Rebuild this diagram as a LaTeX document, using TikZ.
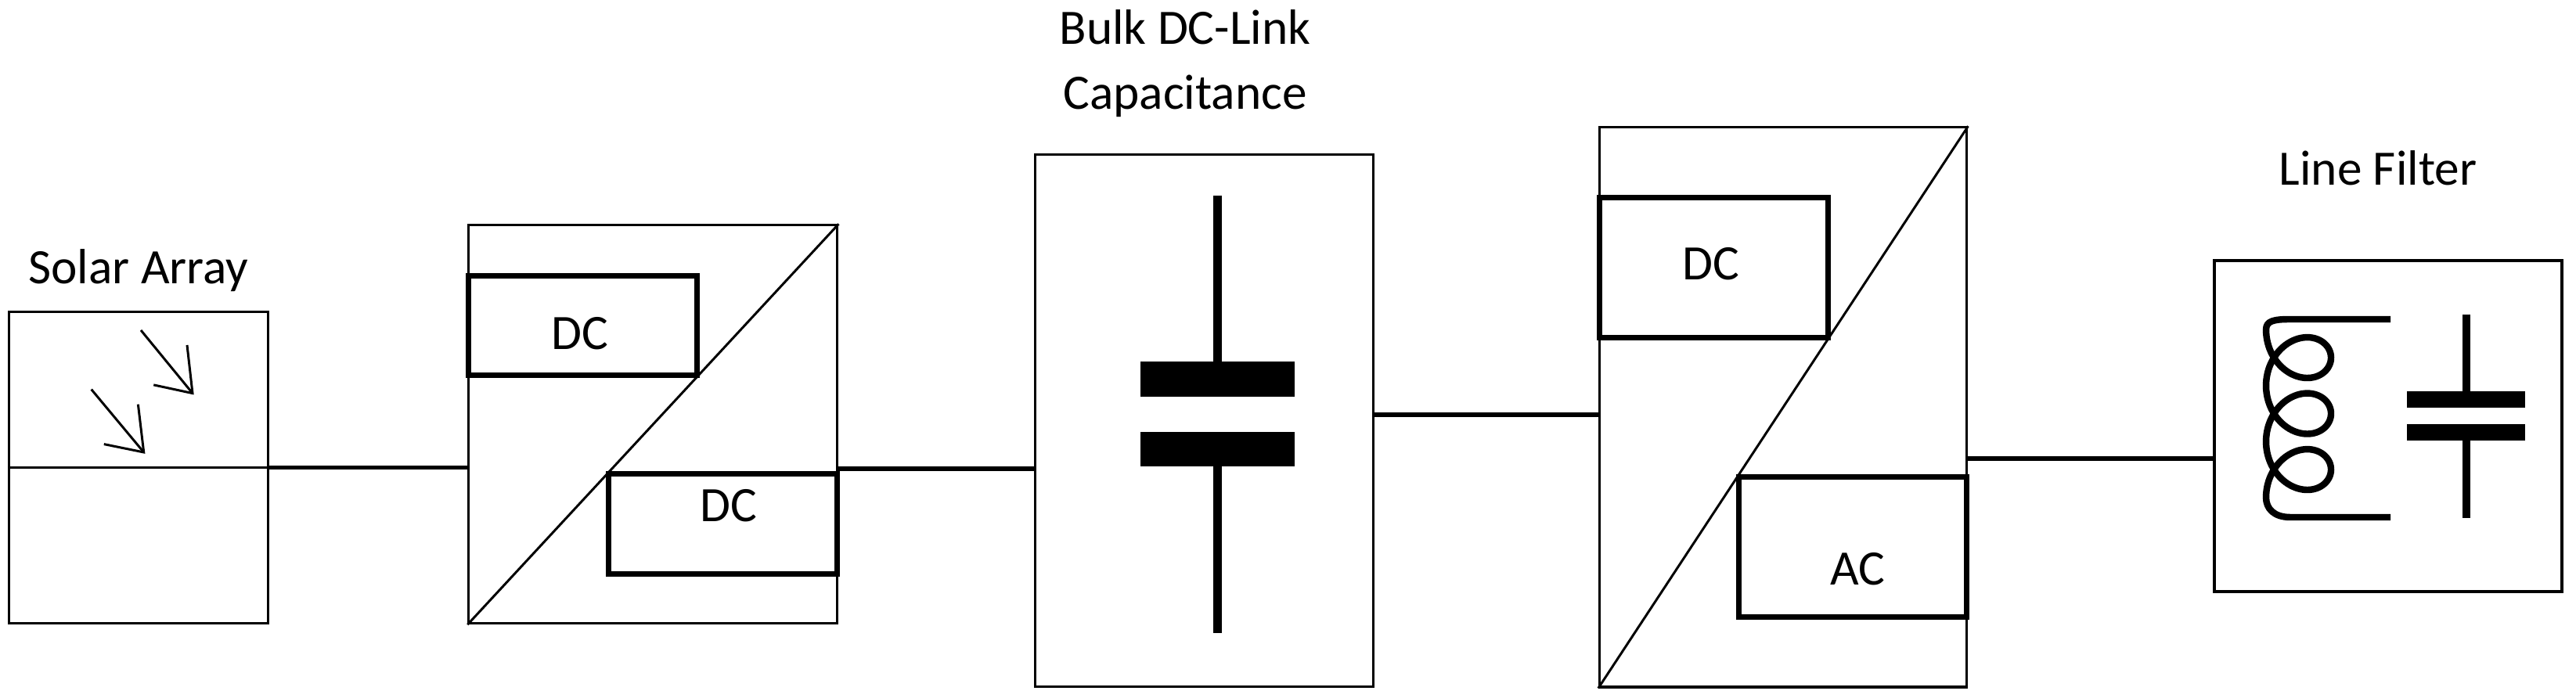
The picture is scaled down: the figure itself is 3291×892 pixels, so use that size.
\documentclass[tikz,border=0pt]{standalone}
\usepackage{fontspec}
\setmainfont{Carlito}
\begin{document}
\begin{tikzpicture}[x=0.01cm,y=-0.01cm,
  thinbox/.style={draw,line width=0.9pt,inner sep=0pt,fill=white},
  thickbox/.style={draw,line width=2pt,inner sep=0pt,fill=white},
  wire/.style={line width=1.7pt},
  lbl/.style={anchor=base,inner sep=0pt,font=\fontsize{18}{22}\selectfont},
  thinline/.style={line width=0.85pt},
  plate/.style={fill=black,draw=none}]
\useasboundingbox (0,0) rectangle (3291,892);
% boxes
\node[thinbox,minimum width=3.305cm,minimum height=3.98cm] (sa) at (176.75,597.5) {};
\node[thinbox,minimum width=4.707cm,minimum height=5.085cm] (dcdc) at (834.35,542.25) {};
\node[thinbox,minimum width=4.31cm,minimum height=6.797cm] (cap) at (1538.5,537.85) {};
\node[thinbox,minimum width=4.692cm,minimum height=7.148cm] (dcac) at (2278.1,520.4) {};
\node[draw,line width=1pt,inner sep=0pt,minimum width=4.44cm,minimum height=4.23cm] (flt) at (3051,544.5) {};
% diagonals
\draw[thinline] (dcdc.south west) -- (dcdc.north east);
\draw[thinline] (dcac.south west) -- (dcac.north east);
% inner boxes
\node[thickbox,minimum width=2.916cm,minimum height=1.266cm] (dc1) at (744.8,416.3) {};
\node[thickbox,minimum width=2.92cm,minimum height=1.27cm] (dc2) at (923.7,669.5) {};
\node[thickbox,minimum width=2.915cm,minimum height=1.793cm] (dc3) at (2189.25,342.15) {};
\node[thickbox,minimum width=2.907cm,minimum height=1.78cm] (ac) at (2367.35,699) {};
% texts
\node[lbl] (tsa) at (177,363) {Solar Array};
\node[lbl] (tbulk) at (1514,57) {Bulk DC-Link};
\node[lbl] (tcap) at (1514,139.4) {Capacitance};
\node[lbl] (tlf) at (3038,237) {Line Filter};
\node[lbl] (tdc1) at (741,447) {DC};
\node[lbl] (tdc2) at (931,667) {DC};
\node[lbl] (tdc3) at (2186,357.6) {DC};
\node[lbl] (tac) at (2373,748) {AC};
% wires
\coordinate (w1) at (0,597.5);
\coordinate (w2) at (0,599.4);
\coordinate (w3) at (0,530);
\coordinate (w4) at (0,586);
\draw[thinline] (sa.west |- w1) -- (sa.east |- w1);
\draw[wire] (sa.east |- w1) -- (dcdc.west |- w1);
\draw[wire] (dcdc.east |- w2) -- (cap.west |- w2);
\draw[wire] (cap.east |- w3) -- (dcac.west |- w3);
\draw[wire] (dcac.east |- w4) -- (flt.west |- w4);
% solar arrows
\draw[thinline] (180,422) -- (246,502.6);
\draw[thinline] (239,441) -- (246,502.6) -- (196.3,491.9);
\draw[thinline] (116.7,497.6) -- (183.7,578);
\draw[thinline] (176.4,516.7) -- (183.7,578) -- (132.8,567.6);
% bulk capacitor
\draw[line width=3.1pt] (1555.6,250) -- (1555.6,470);
\draw[line width=3.1pt] (1555.6,590) -- (1555.6,809.5);
\fill[plate] (1457,462) rectangle (1653.5,507.4);
\fill[plate] (1457,551.8) rectangle (1653.5,596);
% line filter inductor
\draw[line width=2.4pt,line join=round] (3054,408) -- (2926,408)
  .. controls (2905,408) and (2895,410) .. (2895,421.3)
  -- plot[domain=0:18.85,samples=240,smooth] ({2936.5-41.5*cos(\x r)},{421.3+11.38*\x+42.3*sin(\x r)})
  .. controls (2895,650) and (2905,661) .. (2926,661) -- (3054,661);
% line filter capacitor
\draw[line width=2.8pt] (3151,401.8) -- (3151,505);
\draw[line width=2.8pt] (3151,555) -- (3151,662.5);
\fill[plate] (3075,500.4) rectangle (3226,521);
\fill[plate] (3075,542) rectangle (3226,563.4);
\end{tikzpicture}
\end{document}
